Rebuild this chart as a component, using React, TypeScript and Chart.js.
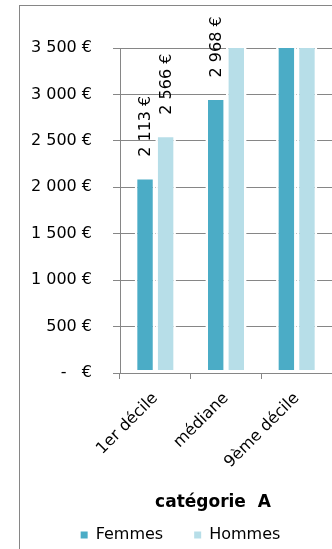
import React, { useEffect, useRef } from 'react';
import { Chart, registerables } from 'chart.js';

Chart.register(...registerables);

const categories = ['1er décile', 'médiane', '9ème décile'];
const seriesNames = ['Femmes', 'Hommes'];
const femmes = [2113, 2968, 5400];
const hommes = [2566, 3700, 7200];
const yTicks = [0, 500, 1000, 1500, 2000, 2500, 3000, 3500];
const chartTitle = 'catégorie  A';

const FONT = 'DejaVu Sans';
const GRID = '#868686';
const COLORS = ['#4BACC6', '#B7DEE8'];

const fmt = (v: number) =>
  v === 0 ? '-   €' : String(Math.round(v)).replace(/\B(?=(\d{3})+(?!\d))/g, ' ') + ' €';

const barLabels = {
  id: 'barLabels',
  afterDatasetsDraw(chart: any) {
    const { ctx } = chart;
    const yMax = chart.scales.y.max;
    ctx.save();
    ctx.font = `16px "${FONT}"`;
    ctx.fillStyle = '#000';
    ctx.textAlign = 'left';
    ctx.textBaseline = 'middle';
    chart.data.datasets.forEach((ds: any, i: number) => {
      const meta = chart.getDatasetMeta(i);
      meta.data.forEach((el: any, j: number) => {
        const v = ds.data[j];
        if (v > yMax) return;
        ctx.save();
        ctx.translate(el.x + 1, el.y - 20);
        ctx.rotate(-Math.PI / 2);
        ctx.fillText(fmt(v), 0, 0);
        ctx.restore();
      });
    });
    ctx.restore();
  },
};

const bottomTitle = {
  id: 'bottomTitle',
  afterDraw(chart: any) {
    const { ctx, chartArea } = chart;
    ctx.save();
    ctx.font = `bold 17px "${FONT}"`;
    ctx.fillStyle = '#000';
    ctx.textAlign = 'center';
    ctx.textBaseline = 'middle';
    ctx.fillText(chartTitle, chartArea.left + 93, chartArea.bottom + 130);
    ctx.restore();
  },
};

export default function App() {
  const ref = useRef<HTMLCanvasElement>(null);
  useEffect(() => {
    const chart = new Chart(ref.current!, {
      type: 'bar',
      data: {
        labels: categories,
        datasets: [
          { label: seriesNames[0], data: femmes, backgroundColor: COLORS[0], borderColor: '#ffffff', borderWidth: 2.6, borderSkipped: false },
          { label: seriesNames[1], data: hommes, backgroundColor: COLORS[1], borderColor: '#ffffff', borderWidth: 2.6, borderSkipped: false },
        ],
      },
      options: {
        responsive: false,
        animation: false,
        devicePixelRatio: 1,
        datasets: { bar: { categoryPercentage: 0.583, barPercentage: 1 } },
        layout: { padding: { left: 29, top: 48, right: 0, bottom: 0 } },
        plugins: {
          tooltip: { enabled: false },
          title: { display: false },
          legend: {
            position: 'bottom',
            labels: {
              boxWidth: 7,
              boxHeight: 7,
              padding: 31,
              color: '#000',
              font: { family: FONT, size: 16 },
              generateLabels: (c: any) =>
                Chart.defaults.plugins.legend.labels.generateLabels(c).map((it: any) => ({
                  ...it,
                  lineWidth: 0,
                  strokeStyle: 'rgba(0,0,0,0)',
                })),
            },
          },
        },
        scales: {
          x: {
            grid: { display: true, drawOnChartArea: false, drawTicks: true, tickLength: 6, color: GRID, offset: true },
            border: { display: true, color: GRID },
            ticks: { minRotation: 45, maxRotation: 45, padding: 10, color: '#000', font: { family: FONT, size: 16 } },
            afterFit: (s: any) => { s.height = 123; },
          },
          y: {
            min: 0,
            max: 3500,
            afterBuildTicks: (s: any) => { s.ticks = yTicks.map((v) => ({ value: v })); },
            ticks: { padding: 21, color: '#000', font: { family: FONT, size: 16 }, callback: (v: any) => fmt(Number(v)) },
            grid: { color: GRID, tickLength: 7 },
            border: { display: true, color: GRID },
            afterFit: (s: any) => { s.width = 91; },
          },
        },
      },
      plugins: [barLabels, bottomTitle],
    } as any);
    return () => chart.destroy();
  }, []);
  return (
    <div style={{ position: 'fixed', left: 0, top: 0, width: 332, height: 549, overflow: 'hidden', background: '#fff' }}>
      <div style={{ position: 'absolute', left: 19, top: 5, width: 400, height: 600, borderLeft: '1px solid #868686', borderTop: '1px solid #868686' }} />
      <canvas ref={ref} width={332} height={553} style={{ position: 'absolute', left: 0, top: 0, width: 332, height: 553 }} />
    </div>
  );
}
